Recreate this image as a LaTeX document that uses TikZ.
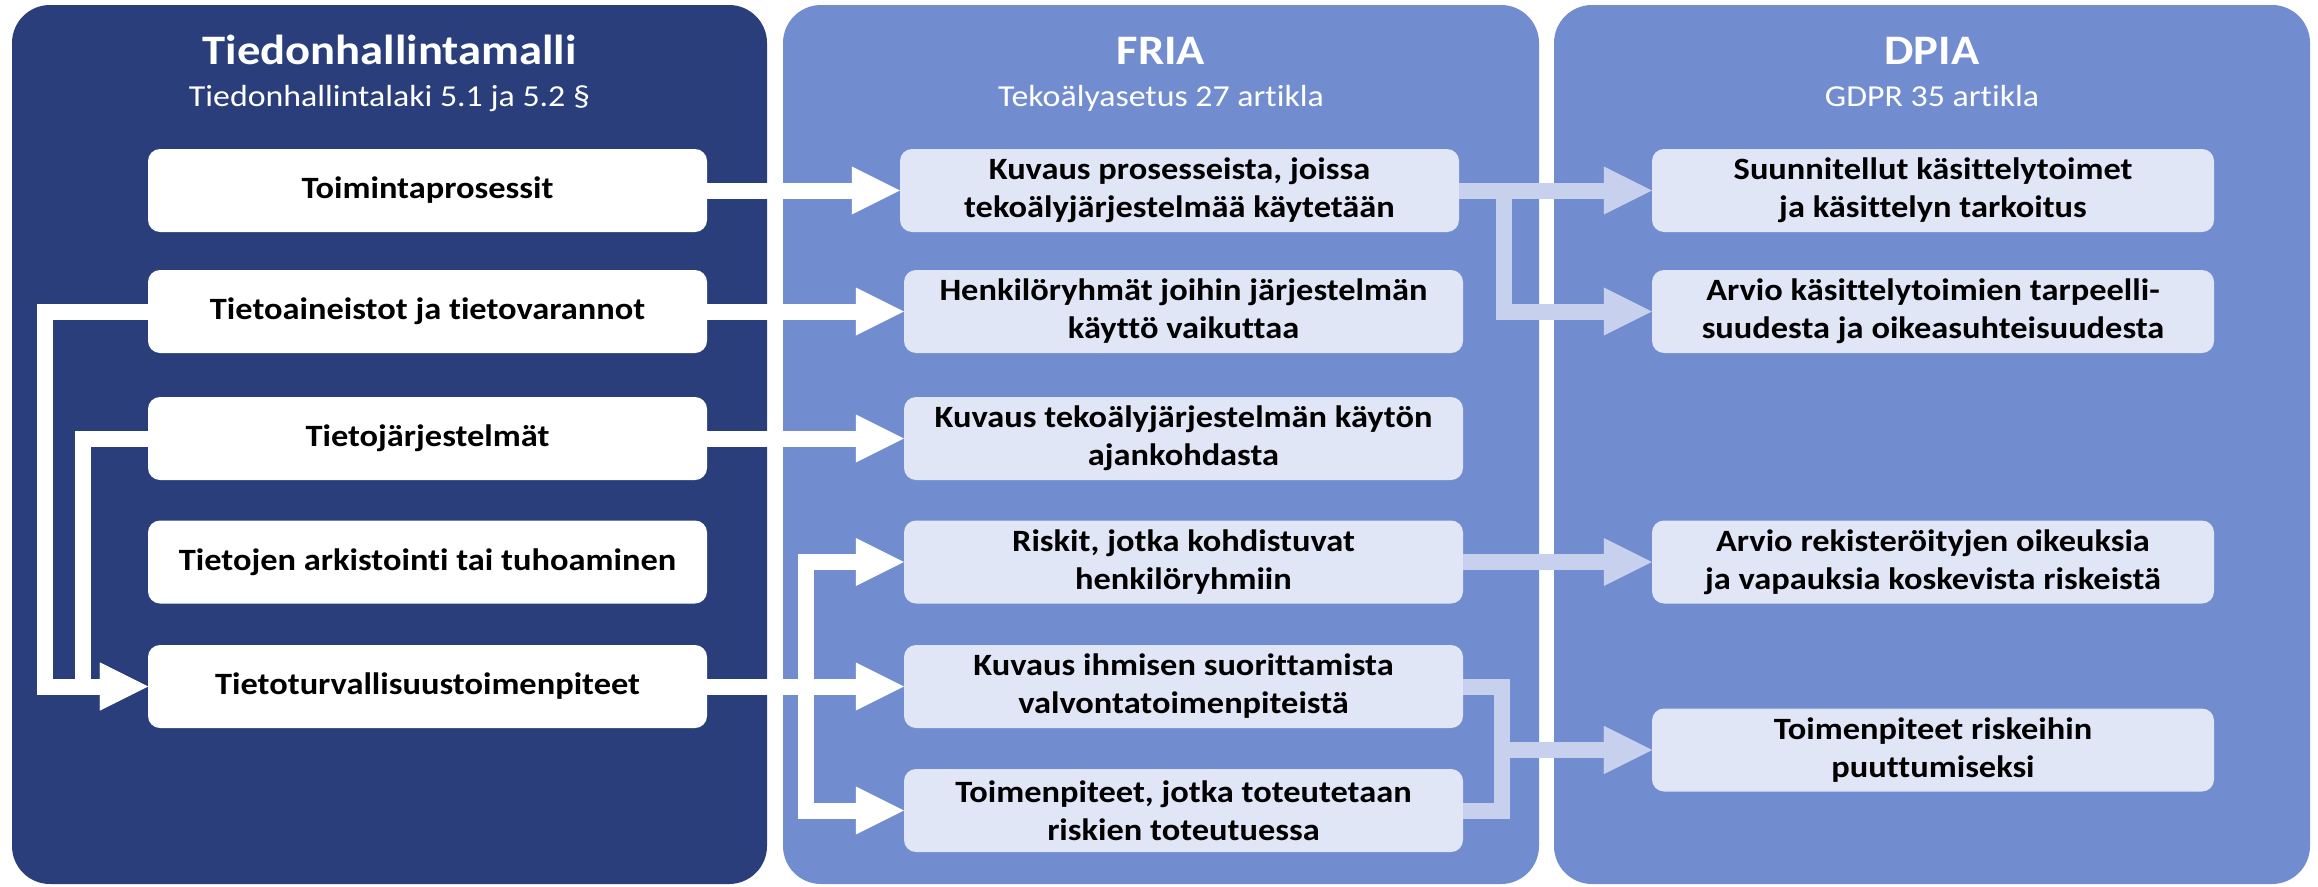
\documentclass[tikz,border=0pt]{standalone}
\usepackage{fontspec}
\setmainfont{Carlito}[FakeStretch=1.11,Ligatures=NoCommon]
\usetikzlibrary{arrows.meta}

\definecolor{navy}{RGB}{41,62,122}
\definecolor{panelblue}{RGB}{114,141,207}
\definecolor{boxlight}{RGB}{224,230,246}
\definecolor{linklight}{RGB}{199,208,236}

\begin{document}
\begin{tikzpicture}[x=1pt,y=-1pt,
  panel/.style={rounded corners=38pt},
  ttl/.style={text=white,anchor=base,inner sep=0pt,
    font=\fontsize{42}{46}\selectfont\bfseries},
  subttl/.style={text=white,anchor=base,inner sep=0pt,
    font=\fontsize{30.5}{34}\selectfont},
  card/.style={rounded corners=12pt,minimum width=559pt,minimum height=83pt,
    inner sep=0pt,align=center,text=black,
    font=\fontsize{31}{38}\selectfont\bfseries},
  wcard/.style={card,fill=white},
  lcard/.style={card,fill=boxlight},
  dcard/.style={lcard,minimum width=562pt},
  flow/.style={line width=16pt,
    -{Triangle[length=48pt 0,width=48pt 0,line width=0pt]}},
  warrow/.style={flow,draw=white},
  larrow/.style={flow,draw=linklight}
]
\useasboundingbox (0,0) rectangle (2318,886);
\fill[white] (0,0) rectangle (2318,886);

% three column panels
\fill[navy,panel] (12,5) rectangle (767,884);
\fill[panelblue,panel] (783,5) rectangle (1539,884);
\fill[panelblue,panel] (1554,5) rectangle (2310,884);

% panel headings
\node[ttl] (h1) at (389.5,64) {Tiedonhallintamalli};
\node[subttl] (s1) at (389.5,106) {Tiedonhallintalaki 5.1 ja 5.2 §};
\node[ttl] (h2) at (1161,64) {FRIA};
\node[subttl] (s2) at (1161,106) {Tekoälyasetus 27 artikla};
\node[ttl] (h3) at (1932,64) {DPIA};
\node[subttl] (s3) at (1932,106) {GDPR 35 artikla};

% information management model
\node[wcard] (tproc) at (427.5,190.5) {Toimintaprosessit};
\node[wcard] (tdata) at (427.5,311.5) {Tietoaineistot ja tietovarannot};
\node[wcard] (tsys)  at (427.5,438.5) {Tietojärjestelmät};
\node[wcard] (tarch) at (427.5,562)   {Tietojen arkistointi tai tuhoaminen};
\node[wcard] (tsec)  at (427.5,686.5) {Tietoturvallisuustoimenpiteet};

% FRIA items
\node[lcard] (f1) at (1179.5,190.5) {Kuvaus prosesseista, joissa\\tekoälyjärjestelmää käytetään};
\node[lcard] (f2) at (1183.5,311.5) {Henkilöryhmät joihin järjestelmän\\käyttö vaikuttaa};
\node[lcard] (f3) at (1183.5,438.5) {Kuvaus tekoälyjärjestelmän käytön\\ajankohdasta};
\node[lcard] (f4) at (1183.5,562)   {Riskit, jotka kohdistuvat\\henkilöryhmiin};
\node[lcard] (f5) at (1183.5,686.5) {Kuvaus ihmisen suorittamista\\valvontatoimenpiteistä};
\node[lcard] (f6) at (1183.5,810.5) {Toimenpiteet, jotka toteutetaan\\riskien toteutuessa};

% DPIA items
\node[dcard] (d1) at (1933,190.5) {Suunnitellut käsittelytoimet\\ja käsittelyn tarkoitus};
\node[dcard] (d2) at (1933,311.5) {Arvio käsittelytoimien tarpeelli-\\suudesta ja oikeasuhteisuudesta};
\node[dcard] (d3) at (1933,562)   {Arvio rekisteröityjen oikeuksia\\ja vapauksia koskevista riskeistä};
\node[dcard] (d4) at (1933,750)   {Toimenpiteet riskeihin\\puuttumiseksi};

% model -> FRIA
\draw[warrow] (tproc.east) -- (f1.west);
\draw[warrow] (tdata.east) -- (f2.west);
\draw[warrow] (tsys.east) -- (f3.west);
\draw[warrow] (tsec.east) -- (f5.west);
\draw[warrow] (tsec.east) -- (805.5,686.5) |- (f4.west);
\draw[warrow] (tsec.east) -- (805.5,686.5) |- (f6.west);

% loops back into security measures
\draw[warrow] (tdata.west) -- (45,311.5) |- (tsec.west);
\draw[warrow] (tsys.west) -- (83,438.5) |- (tsec.west);

% FRIA -> DPIA
\draw[larrow] (f1.east) -- (d1.west);
\draw[larrow] (f1.east) -- (1504,190.5) |- (d2.west);
\draw[larrow] (f4.east) -- (d3.west);
\draw[larrow] (f5.east) -- (1502,686.5) |- (d4.west);
\draw[larrow] (f6.east) -- (1502,810.5) |- (d4.west);
\end{tikzpicture}
\end{document}
